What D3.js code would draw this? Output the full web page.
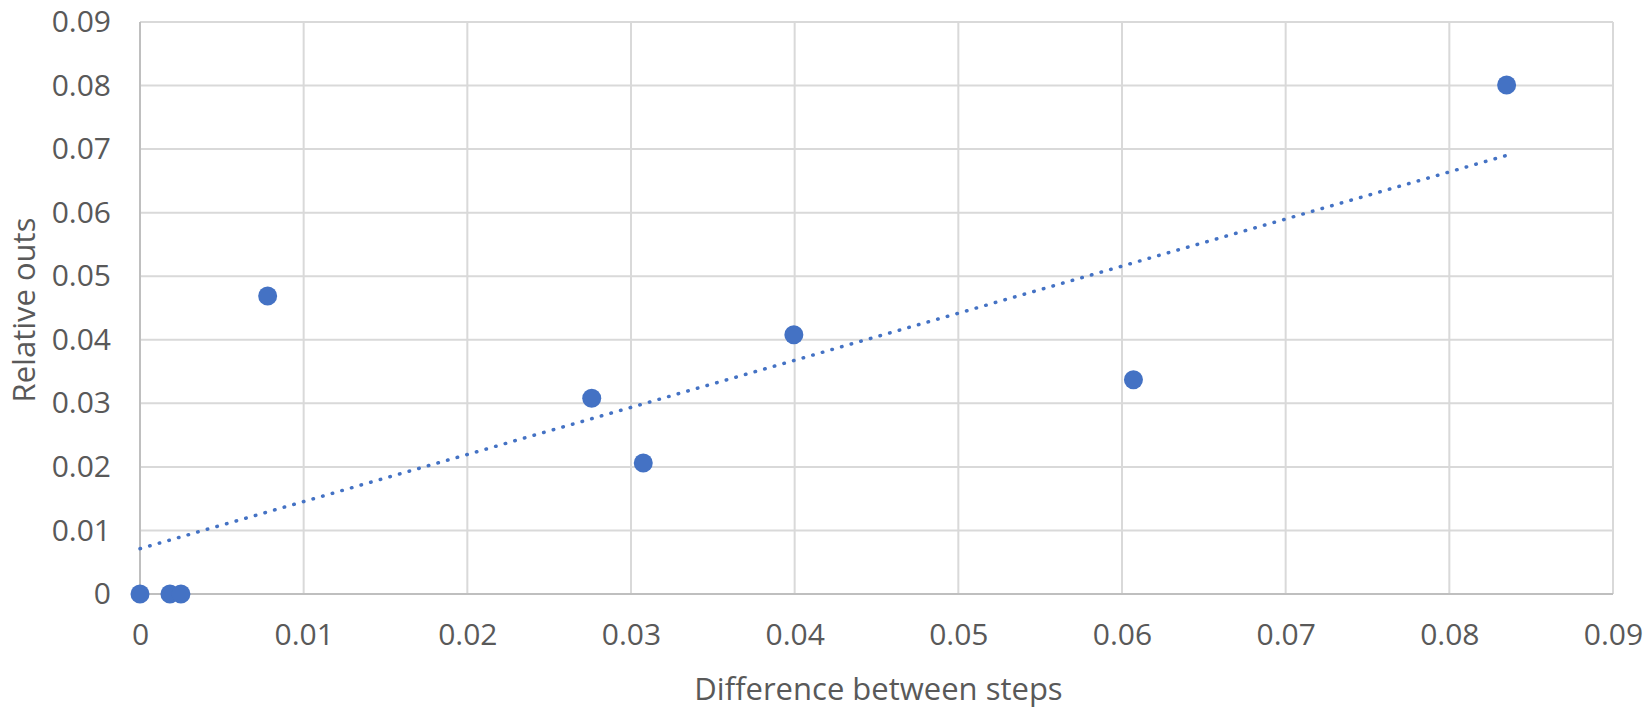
<!DOCTYPE html>
<html>
<head>
<meta charset="utf-8">
<script src="https://cdn.jsdelivr.net/npm/d3@7"></script>
<style>
    body { margin: 0; background: #fff; }
    text { font-family: "Open Sans", "Noto Sans", sans-serif; fill: #595959; }
</style>
</head>
<body>
<script>
// values
var xValues = [0, 0.00183, 0.0025, 0.0078, 0.0276, 0.03075, 0.03995, 0.0607, 0.0835];
var yValues = [0, 0, 0, 0.0469, 0.0308, 0.0206, 0.0408, 0.0337, 0.0801];
var xTicks = [0, 0.01, 0.02, 0.03, 0.04, 0.05, 0.06, 0.07, 0.08, 0.09];
var yTicks = [0, 0.01, 0.02, 0.03, 0.04, 0.05, 0.06, 0.07, 0.08, 0.09];

var margin = {top: 22, right: 38, bottom: 122, left: 140},
    width = 1651 - margin.left - margin.right,
    height = 716 - margin.top - margin.bottom;

var svg = d3.select("body").append("svg")
    .attr("width", 1651)
    .attr("height", 716)
    .append("g")
    .attr("transform", "translate(" + margin.left + "," + margin.top + ")");

var xScale = d3.scaleLinear().domain([0, 0.09]).range([0, width]);
var yScale = d3.scaleLinear().domain([0, 0.09]).range([height, 0]);

var fmt = function(d) { return d === 0 ? "0" : d3.format(".2f")(d); };

// gridlines
svg.append("g")
    .selectAll("line")
    .data(yTicks)
    .enter()
    .append("line")
    .attr("x1", 0)
    .attr("x2", width)
    .attr("y1", function(d) { return yScale(d); })
    .attr("y2", function(d) { return yScale(d); })
    .attr("stroke", "#d9d9d9")
    .attr("stroke-width", 2);

svg.append("g")
    .selectAll("line")
    .data(xTicks)
    .enter()
    .append("line")
    .attr("y1", 0)
    .attr("y2", height)
    .attr("x1", function(d) { return xScale(d); })
    .attr("x2", function(d) { return xScale(d); })
    .attr("stroke", "#d9d9d9")
    .attr("stroke-width", 2);

// axes, only the labels are kept
var xAxis = d3.axisBottom(xScale).tickValues(xTicks).tickFormat(fmt)
    .tickSize(0).tickPadding(30);
var yAxis = d3.axisLeft(yScale).tickValues(yTicks).tickFormat(fmt)
    .tickSize(0).tickPadding(29);

var gx = svg.append("g")
    .attr("transform", "translate(0," + height + ")")
    .call(xAxis);
var gy = svg.append("g").call(yAxis);

[gx, gy].forEach(function(g) {
    g.select(".domain").remove();
    g.selectAll("text")
        .attr("font-size", "30px")
        .attr("fill", "#595959")
        .style("font-family", "'Open Sans', sans-serif");
});

// axis lines a bit darker than the grid
svg.append("line")
    .attr("x1", 0).attr("x2", width)
    .attr("y1", height).attr("y2", height)
    .attr("stroke", "#bfbfbf").attr("stroke-width", 2);
svg.append("line")
    .attr("x1", 0).attr("x2", 0)
    .attr("y1", 0).attr("y2", height)
    .attr("stroke", "#bfbfbf").attr("stroke-width", 2);

// linear trendline from least squares
var n = xValues.length;
var mx = d3.mean(xValues), my = d3.mean(yValues);
var sxy = 0, sxx = 0;
for (var i = 0; i < n; i++) {
    sxy += (xValues[i] - mx) * (yValues[i] - my);
    sxx += (xValues[i] - mx) * (xValues[i] - mx);
}
var slope = sxy / sxx, intercept = my - slope * mx;
var x0 = d3.min(xValues), x1 = d3.max(xValues);

svg.append("line")
    .attr("x1", xScale(x0))
    .attr("y1", yScale(intercept + slope * x0))
    .attr("x2", xScale(x1))
    .attr("y2", yScale(intercept + slope * x1))
    .attr("stroke", "#4472c4")
    .attr("stroke-width", 3.5)
    .attr("stroke-linecap", "round")
    .attr("stroke-dasharray", "0.5,9.5");

// points
svg.selectAll("circle")
    .data(xValues)
    .enter()
    .append("circle")
    .attr("cx", function(d) { return xScale(d); })
    .attr("cy", function(d, i) { return yScale(yValues[i]); })
    .attr("r", 9.5)
    .attr("fill", "#4472c4");

// axis titles
svg.append("text")
    .attr("x", width / 2 + 2)
    .attr("y", height + 106)
    .attr("text-anchor", "middle")
    .attr("font-size", "31px")
    .text("Difference between steps");

svg.append("text")
    .attr("transform", "translate(" + (35 - margin.left) + "," + (310 - margin.top) + ") rotate(-90)")
    .attr("text-anchor", "middle")
    .attr("font-size", "31px")
    .text("Relative outs");
</script>
</body>
</html>
